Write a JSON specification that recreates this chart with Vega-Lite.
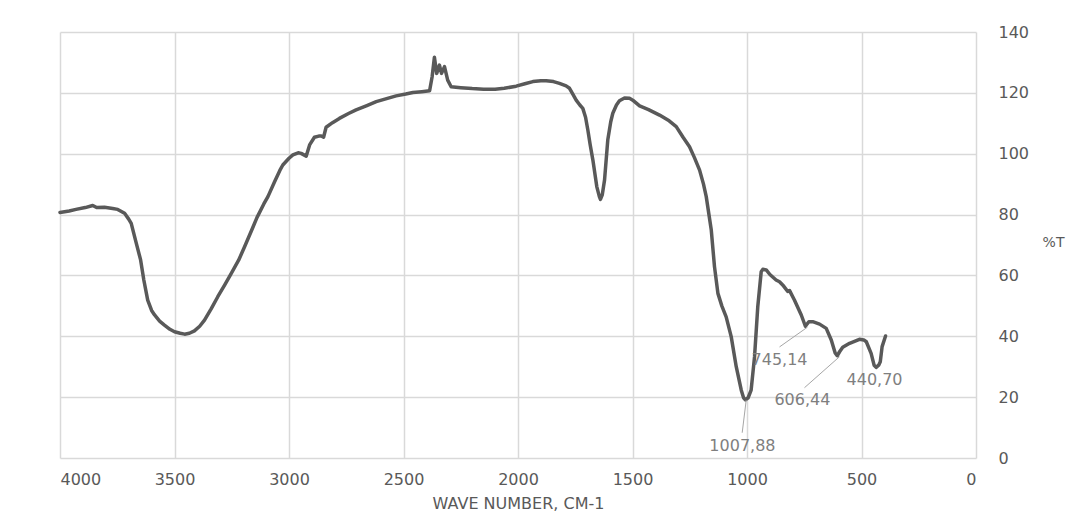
{
  "$schema": "https://vega.github.io/schema/vega-lite/v6.json",
  "width": 916,
  "height": 426,
  "autosize": "none",
  "padding": {"left": 60, "top": 32, "right": 112, "bottom": 73},
  "background": "white",
  "config": {
    "view": {"stroke": null},
    "font": "DejaVu Sans"
  },
  "datasets": {
    "spectrum": [
      {"wn": 4000, "t": 80.7}, {"wn": 3960, "t": 81.2}, {"wn": 3930, "t": 81.7}, {"wn": 3890, "t": 82.3},
      {"wn": 3857, "t": 83.0}, {"wn": 3840, "t": 82.3}, {"wn": 3806, "t": 82.4}, {"wn": 3770, "t": 82.0},
      {"wn": 3748, "t": 81.7}, {"wn": 3718, "t": 80.4}, {"wn": 3700, "t": 78.5}, {"wn": 3689, "t": 77.1},
      {"wn": 3667, "t": 70.6}, {"wn": 3648, "t": 65.1}, {"wn": 3634, "t": 58.5}, {"wn": 3617, "t": 51.9},
      {"wn": 3600, "t": 48.5}, {"wn": 3587, "t": 47.0}, {"wn": 3565, "t": 45.0}, {"wn": 3544, "t": 43.7},
      {"wn": 3520, "t": 42.3}, {"wn": 3500, "t": 41.5}, {"wn": 3475, "t": 41.0}, {"wn": 3456, "t": 40.7},
      {"wn": 3435, "t": 41.0}, {"wn": 3413, "t": 41.8}, {"wn": 3390, "t": 43.3}, {"wn": 3369, "t": 45.3},
      {"wn": 3340, "t": 49.0}, {"wn": 3311, "t": 53.0}, {"wn": 3280, "t": 57.0}, {"wn": 3252, "t": 60.7},
      {"wn": 3220, "t": 65.0}, {"wn": 3194, "t": 69.4}, {"wn": 3165, "t": 74.5}, {"wn": 3140, "t": 79.0},
      {"wn": 3110, "t": 83.5}, {"wn": 3092, "t": 85.9}, {"wn": 3063, "t": 90.8}, {"wn": 3040, "t": 94.5},
      {"wn": 3027, "t": 96.3}, {"wn": 3000, "t": 98.5}, {"wn": 2983, "t": 99.6}, {"wn": 2960, "t": 100.3},
      {"wn": 2947, "t": 100.1}, {"wn": 2925, "t": 99.2}, {"wn": 2910, "t": 102.9}, {"wn": 2889, "t": 105.4},
      {"wn": 2870, "t": 105.8}, {"wn": 2859, "t": 105.8}, {"wn": 2849, "t": 105.4}, {"wn": 2838, "t": 108.7},
      {"wn": 2810, "t": 110.2}, {"wn": 2780, "t": 111.6}, {"wn": 2740, "t": 113.2}, {"wn": 2707, "t": 114.4},
      {"wn": 2660, "t": 115.8}, {"wn": 2619, "t": 117.1}, {"wn": 2570, "t": 118.2}, {"wn": 2532, "t": 119.0},
      {"wn": 2490, "t": 119.6}, {"wn": 2459, "t": 120.1}, {"wn": 2420, "t": 120.4}, {"wn": 2386, "t": 120.7},
      {"wn": 2375, "t": 125.3}, {"wn": 2365, "t": 131.7}, {"wn": 2355, "t": 126.4}, {"wn": 2343, "t": 129.1},
      {"wn": 2334, "t": 126.4}, {"wn": 2321, "t": 128.6}, {"wn": 2307, "t": 124.2}, {"wn": 2292, "t": 122.0},
      {"wn": 2250, "t": 121.7}, {"wn": 2200, "t": 121.4}, {"wn": 2150, "t": 121.2}, {"wn": 2100, "t": 121.2},
      {"wn": 2060, "t": 121.5}, {"wn": 2008, "t": 122.2}, {"wn": 1970, "t": 123.0}, {"wn": 1935, "t": 123.7},
      {"wn": 1900, "t": 124.0}, {"wn": 1877, "t": 124.0}, {"wn": 1845, "t": 123.7}, {"wn": 1819, "t": 123.1},
      {"wn": 1790, "t": 122.3}, {"wn": 1775, "t": 121.5}, {"wn": 1760, "t": 119.5}, {"wn": 1746, "t": 117.6},
      {"wn": 1730, "t": 116.0}, {"wn": 1717, "t": 114.9}, {"wn": 1705, "t": 112.0}, {"wn": 1695, "t": 107.8},
      {"wn": 1685, "t": 103.0}, {"wn": 1673, "t": 97.9}, {"wn": 1656, "t": 89.2}, {"wn": 1645, "t": 86.0},
      {"wn": 1640, "t": 85.0}, {"wn": 1632, "t": 86.5}, {"wn": 1622, "t": 91.4}, {"wn": 1608, "t": 104.5},
      {"wn": 1595, "t": 110.5}, {"wn": 1586, "t": 113.3}, {"wn": 1570, "t": 116.0}, {"wn": 1557, "t": 117.4},
      {"wn": 1535, "t": 118.3}, {"wn": 1513, "t": 118.2}, {"wn": 1499, "t": 117.6}, {"wn": 1469, "t": 115.7},
      {"wn": 1430, "t": 114.5}, {"wn": 1382, "t": 112.7}, {"wn": 1340, "t": 110.8}, {"wn": 1309, "t": 108.9},
      {"wn": 1280, "t": 105.5}, {"wn": 1251, "t": 102.3}, {"wn": 1230, "t": 98.8}, {"wn": 1207, "t": 94.6},
      {"wn": 1190, "t": 90.0}, {"wn": 1178, "t": 85.9}, {"wn": 1156, "t": 74.9}, {"wn": 1142, "t": 62.9},
      {"wn": 1127, "t": 54.1}, {"wn": 1110, "t": 50.0}, {"wn": 1091, "t": 46.4}, {"wn": 1069, "t": 39.9},
      {"wn": 1047, "t": 30.0}, {"wn": 1025, "t": 22.3}, {"wn": 1015, "t": 19.8}, {"wn": 1007, "t": 19.1},
      {"wn": 995, "t": 19.8}, {"wn": 982, "t": 22.3}, {"wn": 967, "t": 33.3}, {"wn": 953, "t": 49.7},
      {"wn": 938, "t": 61.2}, {"wn": 931, "t": 62.0}, {"wn": 916, "t": 61.8}, {"wn": 900, "t": 60.3},
      {"wn": 873, "t": 58.5}, {"wn": 858, "t": 57.9}, {"wn": 840, "t": 56.5}, {"wn": 822, "t": 54.7},
      {"wn": 814, "t": 55.0}, {"wn": 793, "t": 51.9}, {"wn": 763, "t": 47.0}, {"wn": 745, "t": 43.3},
      {"wn": 741, "t": 43.7}, {"wn": 730, "t": 44.8}, {"wn": 713, "t": 44.8}, {"wn": 683, "t": 44.0},
      {"wn": 654, "t": 42.6}, {"wn": 632, "t": 38.8}, {"wn": 615, "t": 34.5}, {"wn": 606, "t": 33.6},
      {"wn": 595, "t": 35.0}, {"wn": 582, "t": 36.4}, {"wn": 552, "t": 37.7}, {"wn": 509, "t": 39.0},
      {"wn": 490, "t": 38.8}, {"wn": 479, "t": 38.2}, {"wn": 458, "t": 34.4}, {"wn": 445, "t": 30.5},
      {"wn": 436, "t": 29.8}, {"wn": 425, "t": 30.5}, {"wn": 418, "t": 31.6}, {"wn": 410, "t": 36.6},
      {"wn": 395, "t": 40.1}
    ],
    "leaders": [
      {"wn": 1021, "t": 8.3, "wn2": 1003.5, "t2": 19},
      {"wn": 858, "t": 36.5, "wn2": 736, "t2": 43},
      {"wn": 749, "t": 23.1, "wn2": 596, "t2": 33.3}
    ],
    "labels": [
      {"wn": 1020, "t": 3.9, "label": "1007,88"},
      {"wn": 858, "t": 32.2, "label": "745,14"},
      {"wn": 758, "t": 19, "label": "606,44"},
      {"wn": 443, "t": 25.6, "label": "440,70"}
    ]
  },
  "layer": [
    {
      "data": {"name": "spectrum"},
      "mark": {"type": "line", "color": "#595959", "strokeWidth": 3.5, "strokeJoin": "round", "strokeCap": "round"},
      "encoding": {
        "x": {
          "field": "wn", "type": "quantitative",
          "scale": {"domain": [0, 4000], "reverse": true, "nice": false, "zero": false},
          "axis": {
            "title": "WAVE NUMBER, CM-1",
            "values": [0, 500, 1000, 1500, 2000, 2500, 3000, 3500, 4000],
            "format": "d",
            "grid": true, "gridColor": "#d9d9d9", "gridWidth": 1.5,
            "domain": false, "ticks": false,
            "labelPadding": 13, "labelFontSize": 16, "labelColor": "#595959", "labelFont": "DejaVu Sans",
            "titleFontSize": 16, "titleFontWeight": "normal", "titleColor": "#595959", "titleFont": "DejaVu Sans",
            "titlePadding": 8
          }
        },
        "y": {
          "field": "t", "type": "quantitative",
          "scale": {"domain": [0, 140], "nice": false},
          "axis": {
            "orient": "right",
            "title": "%T",
            "values": [0, 20, 40, 60, 80, 100, 120, 140],
            "grid": true, "gridColor": "#d9d9d9", "gridWidth": 1.5,
            "domain": false, "ticks": false,
            "labelPadding": 22, "labelFontSize": 16, "labelColor": "#595959", "labelFont": "DejaVu Sans",
            "titleFontSize": 14, "titleFontWeight": "normal", "titleColor": "#595959", "titleFont": "DejaVu Sans",
            "titleAngle": 0, "titleX": 77, "titleY": 210, "titleAlign": "center", "titleBaseline": "middle"
          }
        }
      }
    },
    {
      "data": {"name": "leaders"},
      "mark": {"type": "rule", "color": "#a6a6a6", "strokeWidth": 1},
      "encoding": {
        "x": {"field": "wn", "type": "quantitative"},
        "y": {"field": "t", "type": "quantitative"},
        "x2": {"field": "wn2"},
        "y2": {"field": "t2"}
      }
    },
    {
      "data": {"name": "labels"},
      "mark": {"type": "text", "color": "#7f7f7f", "fontSize": 16, "font": "DejaVu Sans", "align": "center", "baseline": "middle"},
      "encoding": {
        "x": {"field": "wn", "type": "quantitative"},
        "y": {"field": "t", "type": "quantitative"},
        "text": {"field": "label"}
      }
    }
  ]
}
